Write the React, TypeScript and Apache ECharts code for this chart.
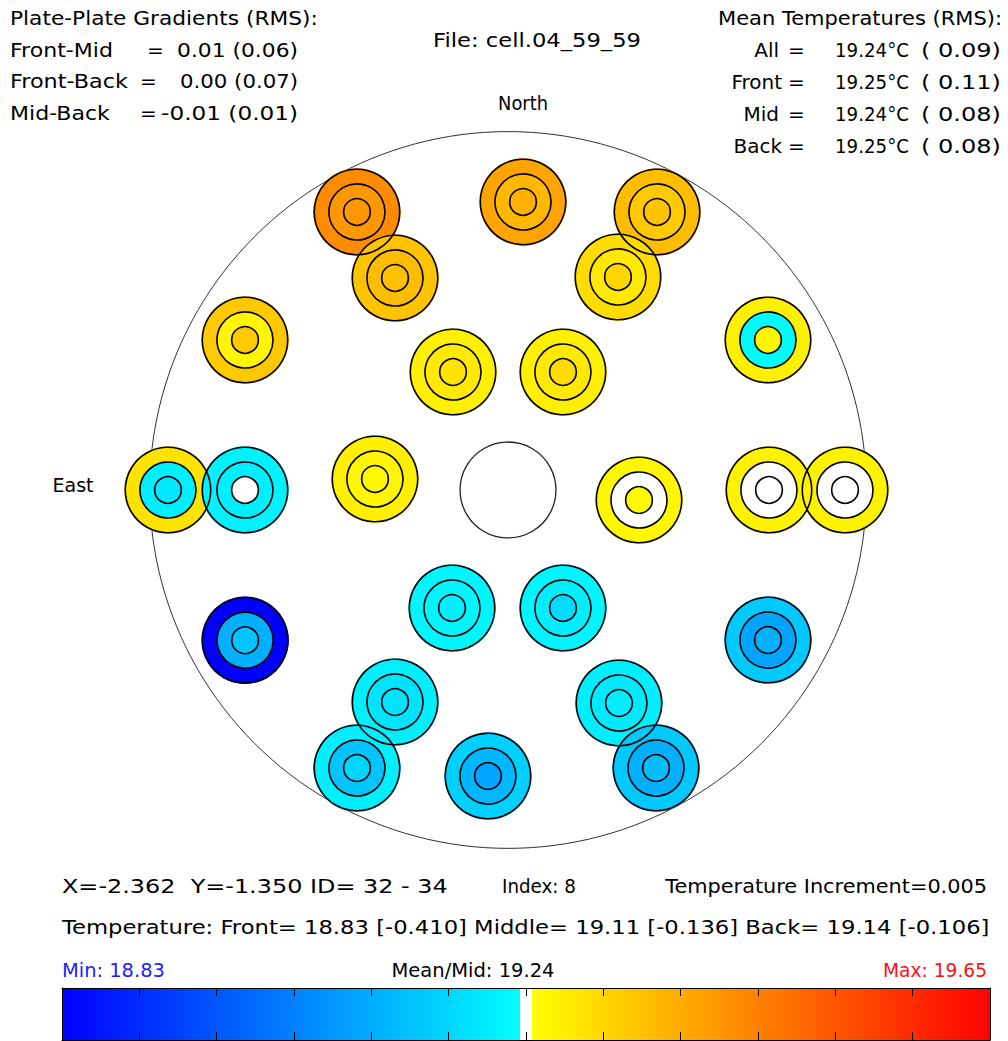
import React, { useEffect, useRef } from 'react';
import * as echarts from 'echarts';

// ---- Sensor positions on the plate (plate units, +x right, +y up / North) ----
const sensorX = [-1.357, 0.135, 1.339, -1.015, 0.988, -2.363, 2.336, -0.494, 0.494, -3.055, -2.363, -1.195, 1.177, 2.345, 3.028, -0.503, 0.494, -2.362, 2.336, -1.015, 0.997, -1.357, -0.18, 1.33];
const sensorY = [2.498, 2.588, 2.498, 1.905, 1.914, 1.348, 1.348, 1.06, 1.06, 0.0, 0.0, 0.099, -0.09, 0.0, 0.0, -1.06, -1.06, -1.35, -1.348, -1.905, -1.914, -2.498, -2.57, -2.498];

// ---- Ring temperatures (°C): outer = front, middle ring = middle, inner = back ----
const frontTemps = [19.43, 19.39, 19.35, 19.34, 19.3, 19.33, 19.27, 19.27, 19.27, 19.29, 19.215, 19.27, 19.26, 19.265, 19.265, 19.22, 19.22, 18.83, 19.15, 19.21, 19.21, 19.21, 19.16, 19.15];
const middleTemps = [19.41, 19.36, 19.33, 19.35, 19.28, 19.26, 19.228, 19.28, 19.28, 19.21, 19.21, 19.26, 19.24, 19.24, 19.24, 19.22, 19.21, 19.11, 19.09, 19.19, 19.2, 19.14, 19.12, 19.11];
const backTemps = [19.41, 19.37, 19.34, 19.345, 19.31, 19.33, 19.26, 19.29, 19.3, 19.2, 19.24, 19.255, 19.255, 19.24, 19.24, 19.21, 19.18, 19.14, 19.11, 19.19, 19.21, 19.17, 19.09, 19.13];

// ---- Colour scale ----
const tempMin = 18.83;
const tempMax = 19.65;
const tempMean = 19.24;
const tempIncrement = 0.005;
const colorbarSegments = 12;

// ---- Geometry (plate units) ----
const plateRadius = 3.22;
const holeRadius = 0.431;
const ringRadii = [0.384, 0.252, 0.12];

const FONT = 'DejaVu Sans';
const FONT_SIZE = 20;

let measureCtx: CanvasRenderingContext2D | null = null;
function measure(text: string, size: number): number {
  if (!measureCtx) measureCtx = document.createElement('canvas').getContext('2d');
  if (!measureCtx) return 0;
  measureCtx.font = `${size}px "${FONT}"`;
  return measureCtx.measureText(text).width;
}

function tempColor(t: number): string {
  const lo = tempMean - tempIncrement;
  const hi = tempMean + tempIncrement;
  if (t >= lo && t <= hi) return '#ffffff';
  if (t < lo) {
    const f = Math.max(0, Math.min(1, (t - tempMin) / (lo - tempMin)));
    return `rgb(0,${Math.round(255 * f)},255)`;
  }
  const f = Math.max(0, Math.min(1, (t - hi) / (tempMax - hi)));
  return `rgb(255,${Math.round(255 * (1 - f))},0)`;
}

// text element; `width` = target rendered width in px (horizontal stretch to match the original font)
function txt(text: string, x: number, y: number, align = 'left', width = 0, fill = '#000') {
  const w = width ? measure(text, FONT_SIZE) : 0;
  const sx = width && w > 0 ? width / w : 1;
  return {
    type: 'text',
    x,
    y,
    scaleX: sx,
    scaleY: 1,
    silent: true,
    style: {
      text,
      fill,
      fontSize: FONT_SIZE,
      fontFamily: FONT,
      textAlign: align,
      align,
      textVerticalAlign: 'middle',
      verticalAlign: 'middle',
    },
  };
}

export default function App() {
  const ref = useRef<HTMLDivElement>(null);

  useEffect(() => {
    if (!ref.current) return;
    const chart = echarts.init(ref.current, null, { renderer: 'svg' });

    const sensorData = sensorX.map((x, i) => [x, sensorY[i], frontTemps[i], middleTemps[i], backTemps[i]]);

    const fLo = (tempMean - tempIncrement - tempMin) / (tempMax - tempMin);
    const fHi = (tempMean + tempIncrement - tempMin) / (tempMax - tempMin);
    const gradient = new echarts.graphic.LinearGradient(0, 0, 1, 0, [
      { offset: 0, color: tempColor(tempMin) },
      { offset: fLo, color: tempColor(tempMean - tempIncrement - 1e-6) },
      { offset: fLo, color: '#ffffff' },
      { offset: fHi, color: '#ffffff' },
      { offset: fHi, color: tempColor(tempMean + tempIncrement + 1e-6) },
      { offset: 1, color: tempColor(tempMax) },
    ]);

    const barAxisX = (position: string) => ({
      gridIndex: 1,
      type: 'value',
      min: 0,
      max: colorbarSegments,
      interval: 1,
      position,
      z: 10,
      axisLine: { show: true, onZero: false, lineStyle: { color: '#000', width: 1 } },
      axisTick: { show: true, inside: true, length: 8, lineStyle: { color: '#000', width: 1 } },
      axisLabel: { show: false },
      splitLine: { show: false },
    });
    const barAxisY = (position: string) => ({
      gridIndex: 1,
      type: 'value',
      min: 0,
      max: 1,
      position,
      z: 10,
      axisLine: { show: true, onZero: false, lineStyle: { color: '#000', width: 1 } },
      axisTick: { show: false },
      axisLabel: { show: false },
      splitLine: { show: false },
    });

    const option: any = {
      animation: false,
      backgroundColor: '#ffffff',
      grid: [
        { left: 118.45, top: 100.45, width: 779.1, height: 779.1 },
        { left: 62, top: 988, width: 928, height: 52 },
      ],
      xAxis: [
        { gridIndex: 0, type: 'value', min: -3.5, max: 3.5, show: false },
        barAxisX('bottom'),
        barAxisX('top'),
      ],
      yAxis: [
        { gridIndex: 0, type: 'value', min: -3.5, max: 3.5, show: false },
        barAxisY('left'),
        barAxisY('right'),
      ],
      series: [
        {
          type: 'custom',
          name: 'plate',
          xAxisIndex: 0,
          yAxisIndex: 0,
          z: 1,
          silent: true,
          data: [[0, 0]],
          renderItem: (params: any, api: any) => {
            const c = api.coord([api.value(0), api.value(1)]);
            const s = api.size([1, 1]);
            return {
              type: 'circle',
              shape: { cx: c[0], cy: c[1], r: plateRadius * s[0] },
              style: { fill: 'none', stroke: '#333', lineWidth: 1 },
            };
          },
        },
        {
          type: 'custom',
          name: 'sensor fills',
          xAxisIndex: 0,
          yAxisIndex: 0,
          z: 2,
          silent: true,
          data: sensorData,
          renderItem: (params: any, api: any) => {
            const c = api.coord([api.value(0), api.value(1)]);
            const s = api.size([1, 1]);
            return {
              type: 'group',
              children: ringRadii.map((r, k) => ({
                type: 'circle',
                shape: { cx: c[0], cy: c[1], r: r * s[0] + (k === 0 ? 1 : 0) },
                style: { fill: tempColor(api.value(2 + k)), stroke: 'none' },
              })),
            };
          },
        },
        {
          type: 'custom',
          name: 'sensor outlines',
          xAxisIndex: 0,
          yAxisIndex: 0,
          z: 3,
          silent: true,
          data: sensorData,
          renderItem: (params: any, api: any) => {
            const c = api.coord([api.value(0), api.value(1)]);
            const s = api.size([1, 1]);
            return {
              type: 'group',
              children: ringRadii.map((r) => ({
                type: 'circle',
                shape: { cx: c[0], cy: c[1], r: r * s[0] },
                style: { fill: 'none', stroke: '#000', lineWidth: 1.6 },
              })),
            };
          },
        },
        {
          type: 'custom',
          name: 'centre hole',
          xAxisIndex: 0,
          yAxisIndex: 0,
          z: 4,
          silent: true,
          data: [[0, 0]],
          renderItem: (params: any, api: any) => {
            const c = api.coord([api.value(0), api.value(1)]);
            const s = api.size([1, 1]);
            return {
              type: 'circle',
              shape: { cx: c[0], cy: c[1], r: holeRadius * s[0] },
              style: { fill: '#fff', stroke: '#222', lineWidth: 1.3 },
            };
          },
        },
        {
          type: 'custom',
          name: 'colorbar',
          xAxisIndex: 1,
          yAxisIndex: 1,
          z: 2,
          silent: true,
          data: [[0, 0, colorbarSegments, 1]],
          renderItem: (params: any, api: any) => {
            const p0 = api.coord([api.value(0), api.value(3)]);
            const p1 = api.coord([api.value(2), api.value(1)]);
            return {
              type: 'rect',
              shape: { x: p0[0], y: p0[1], width: p1[0] - p0[0], height: p1[1] - p0[1] },
              style: { fill: gradient },
            };
          },
        },
      ],
      graphic: [
        txt('Plate-Plate Gradients (RMS):', 10, 18, 'left', 308),
        txt('Front-Mid', 10, 50, 'left', 103),
        txt('=', 147, 50),
        txt('0.01 (0.06)', 298, 50, 'right', 121),
        txt('Front-Back', 10, 81, 'left', 118),
        txt('=', 140, 81),
        txt('0.00 (0.07)', 298, 81, 'right', 118),
        txt('Mid-Back', 10, 113, 'left', 100),
        txt('=', 140, 113),
        txt('-0.01 (0.01)', 298, 113, 'right', 137),

        txt('File: cell.04_59_59', 537, 40, 'center', 208),
        txt('North', 523, 103, 'center', 50),
        txt('East', 73, 485, 'center', 41),

        txt('Mean Temperatures (RMS):', 1002, 18, 'right', 284),
        txt('All', 779, 50, 'right'),
        txt('=', 788, 50),
        txt('19.24°C', 835, 50, 'left', 74),
        txt('( 0.09)', 1001, 50, 'right', 80),
        txt('Front', 782, 82, 'right'),
        txt('=', 788, 82),
        txt('19.25°C', 835, 82, 'left', 74),
        txt('( 0.11)', 1001, 82, 'right', 80),
        txt('Mid', 779, 114, 'right'),
        txt('=', 788, 114),
        txt('19.24°C', 835, 114, 'left', 74),
        txt('( 0.08)', 1001, 114, 'right', 80),
        txt('Back', 782, 146, 'right'),
        txt('=', 788, 146),
        txt('19.25°C', 835, 146, 'left', 74),
        txt('( 0.08)', 1001, 146, 'right', 80),

        txt('X=-2.362  Y=-1.350 ID= 32 - 34', 62, 886, 'left', 386),
        txt('Index: 8', 502, 886, 'left', 74),
        txt('Temperature Increment=0.005', 987, 886, 'right', 322),
        txt('Temperature: Front= 18.83 [-0.410] Middle= 19.11 [-0.136] Back= 19.14 [-0.106]', 62, 927, 'left', 928),

        txt('Min: 18.83', 62, 970, 'left', 103, '#2020ff'),
        txt('Mean/Mid: 19.24', 473, 970, 'center', 163),
        txt('Max: 19.65', 987, 970, 'right', 104, '#ff1010'),
      ],
    };

    chart.setOption(option);
    return () => chart.dispose();
  }, []);

  return (
    <div
      ref={ref}
      style={{ position: 'absolute', left: 0, top: 0, width: 1008, height: 1041, background: '#fff' }}
    />
  );
}
